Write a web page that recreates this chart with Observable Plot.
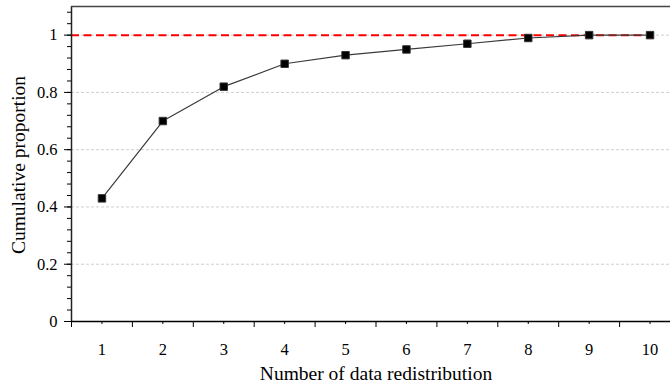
<!DOCTYPE html>
<html><head><meta charset="utf-8">
<script src="https://cdn.jsdelivr.net/npm/d3@7"></script>
<script src="https://cdn.jsdelivr.net/npm/@observablehq/plot@0.6"></script>
<style>
html,body{margin:0;padding:0;overflow:hidden;background:#fff;width:670px;height:385px}
svg{max-width:none !important;display:block}
g[aria-label$="tick label"], g[aria-label$="tick label"] text{font-size:16.5px !important}
</style>
</head><body><div id="chart"></div>
<script>
const redistributions = [1, 2, 3, 4, 5, 6, 7, 8, 9, 10];
const cumulativeProportion = [0.43, 0.70, 0.82, 0.90, 0.93, 0.95, 0.97, 0.99, 1.00, 1.00];
const xTickValues = [1, 2, 3, 4, 5, 6, 7, 8, 9, 10];
const xTickLabels = ["1", "2", "3", "4", "5", "6", "7", "8", "9", "10"];
const xMajorTicks = [0.5, 1.5, 2.5, 3.5, 4.5, 5.5, 6.5, 7.5, 8.5, 9.5, 10.5];
const yTickValues = [0, 0.2, 0.4, 0.6, 0.8, 1];
const yTickLabels = ["0", "0.2", "0.4", "0.6", "0.8", "1"];
const yMinorTicks = d3.range(0, 1.1, 0.04);
const gridValues = [0.2, 0.4, 0.6, 0.8, 1];
const referenceLevel = [1];
const xDomain = [0.5, 10.5];
const yDomain = [0, 1.1];
const xTitle = "Number of data redistribution";
const yTitle = "Cumulative proportion";

const data = redistributions.map((x, i) => ({x, y: cumulativeProportion[i]}));
const refData = referenceLevel.map(y => ({y, x1: xDomain[0], x2: redistributions[redistributions.length - 1]}));
const font = "'Liberation Serif', 'Times New Roman', serif";

const chart = Plot.plot({
  width: 680, height: 385,
  marginTop: 6, marginBottom: 64, marginLeft: 71, marginRight: 0,
  style: {fontFamily: font, fontSize: "16.5px", color: "#000", background: "#fff", maxWidth: "none", overflow: "visible"},
  x: {domain: xDomain},
  y: {domain: yDomain},
  marks: [
    Plot.ruleY(gridValues, {stroke: "#cfcfcf", strokeWidth: 1, strokeDasharray: "3,2"}),
    Plot.ruleY(refData, {y: "y", x1: "x1", x2: "x2", stroke: "#ff0000", strokeWidth: 2, strokeDasharray: "8,4.5"}),
    Plot.line(data, {x: "x", y: "y", stroke: "#3a3a3a", strokeWidth: 1.2}),
    Plot.dot(data, {x: "x", y: "y", symbol: "square", r: 4.2, fill: "#000", stroke: "#333", strokeWidth: 1}),
    Plot.ruleX([xDomain[0]], {stroke: "#222", strokeWidth: 1.5}),
    Plot.ruleY([yDomain[1]], {stroke: "#444", strokeWidth: 1.5}),
    Plot.ruleY([yDomain[0]], {stroke: "#000", strokeWidth: 1.5}),
    Plot.axisX(xMajorTicks, {tickSize: 6, tickFormat: () => "", label: null, stroke: "#000"}),
    Plot.axisX(xTickValues, {tickSize: 3, tickPadding: 19, tickFormat: d => xTickLabels[xTickValues.indexOf(d)], label: null, stroke: "#000"}),
    Plot.axisY(yMinorTicks, {tickSize: 4, tickFormat: () => "", label: null, stroke: "#000"}),
    Plot.axisY(yTickValues, {tickSize: 7, tickPadding: 7, tickFormat: d => yTickLabels[yTickValues.indexOf(d)], label: null, stroke: "#000"}),
    Plot.text([yTitle], {frameAnchor: "left", text: d => d, rotate: -90, dx: -53, dy: 1, fontSize: 19.5, textAnchor: "middle", lineAnchor: "middle", fill: "#000"}),
    Plot.text([xTitle], {frameAnchor: "bottom", text: d => d, dy: 52, fontSize: 19.5, lineAnchor: "middle", fill: "#000"})
  ]
});
document.getElementById("chart").appendChild(chart);
</script>
</body></html>
